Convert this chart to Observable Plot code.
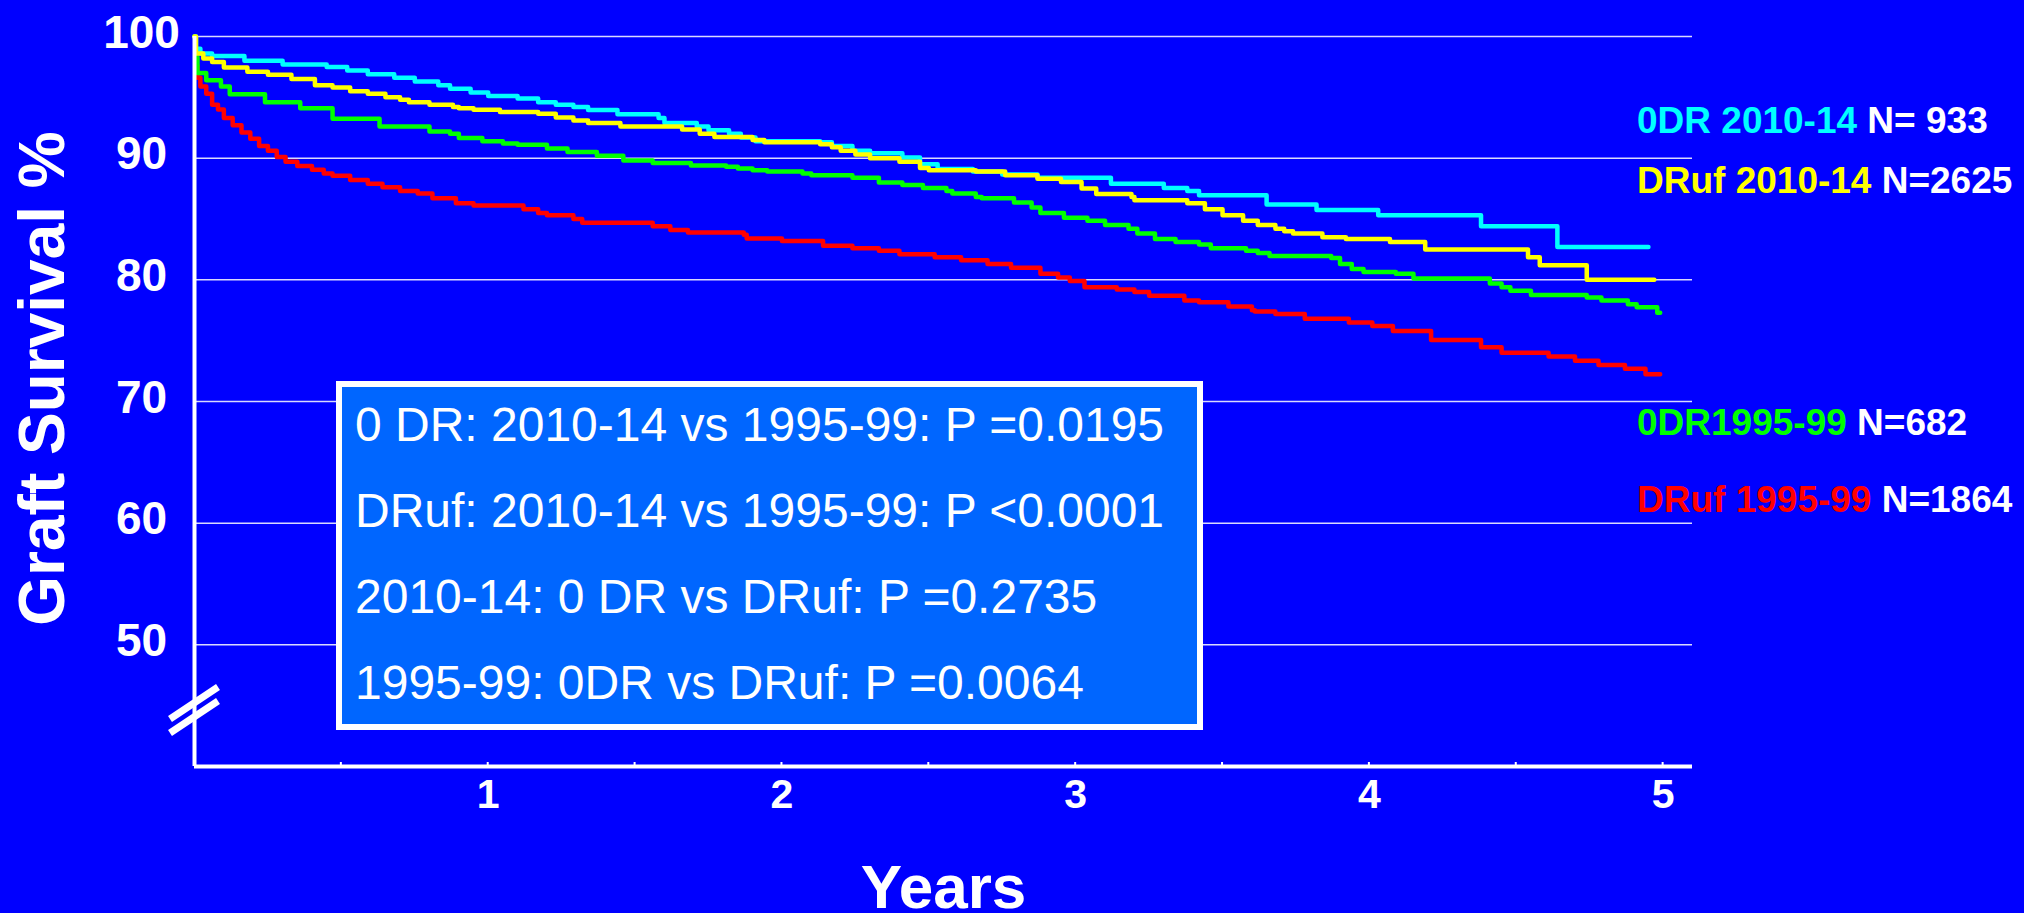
<!DOCTYPE html>
<html>
<head>
<meta charset="utf-8">
<script src="https://cdn.jsdelivr.net/npm/d3@7"></script>
<script src="https://cdn.jsdelivr.net/npm/@observablehq/plot@0.6"></script>
<style>
  html, body { margin: 0; padding: 0; background: #0000ff; overflow: hidden; }
  #chart svg { display: block; }
</style>
</head>
<body>
<div id="chart"></div>
<script>
// ---------------- DATA ----------------
const xTicks = [1, 2, 3, 4, 5];
const xMinorTicks = [0.5, 1, 1.5, 2, 2.5, 3, 3.5, 4, 4.5, 5];
const yTicks = [50, 60, 70, 80, 90, 100];
const xDomain = [0, 5.1];
const yDomain = [40, 100];
const yBreak = 44.6;
const xLabel = "Years";
const yLabel = "Graft Survival %";

// Kaplan-Meier steps: [years, graft survival %]
const odr2010 = [[0,100],[0.005,99.0],[0.02,98.6],[0.06,98.4],[0.17,98.0],[0.3,97.7],[0.45,97.5],[0.52,97.2],[0.59,96.9],[0.68,96.6],[0.75,96.3],[0.83,96.0],[0.87,95.7],[0.94,95.4],[1.0,95.1],[1.1,94.9],[1.17,94.6],[1.23,94.4],[1.29,94.2],[1.34,93.95],[1.44,93.6],[1.58,93.3],[1.6,92.9],[1.71,92.6],[1.75,92.3],[1.82,92.0],[1.86,91.7],[1.91,91.4],[2.13,91.3],[2.17,91.0],[2.24,90.6],[2.3,90.4],[2.41,90.05],[2.47,89.5],[2.53,89.1],[2.65,88.9],[2.75,88.65],[2.87,88.4],[3.12,87.9],[3.3,87.55],[3.38,87.3],[3.42,86.95],[3.65,86.2],[3.82,85.75],[4.03,85.3],[4.38,84.4],[4.64,82.7],[4.95,82.7]];

const druf2010 = [[0,100],[0.005,98.6],[0.03,98.2],[0.06,97.9],[0.1,97.45],[0.18,97.1],[0.25,96.85],[0.33,96.5],[0.41,96.0],[0.47,95.8],[0.53,95.5],[0.59,95.3],[0.65,95.0],[0.7,94.8],[0.73,94.6],[0.8,94.4],[0.88,94.2],[0.9,94.1],[0.95,93.98],[1.04,93.8],[1.17,93.65],[1.23,93.35],[1.29,93.1],[1.34,92.9],[1.45,92.6],[1.66,92.35],[1.72,92.0],[1.77,91.75],[1.9,91.5],[1.94,91.3],[2.13,91.15],[2.17,90.9],[2.2,90.6],[2.25,90.3],[2.3,90.0],[2.4,89.7],[2.47,89.2],[2.5,89.0],[2.66,88.9],[2.76,88.6],[2.87,88.3],[2.95,88.05],[3.02,87.5],[3.07,87.05],[3.19,86.8],[3.2,86.55],[3.38,86.3],[3.44,85.8],[3.5,85.3],[3.57,84.85],[3.62,84.5],[3.68,84.2],[3.71,84.0],[3.74,83.8],[3.84,83.5],[3.92,83.35],[4.07,83.1],[4.19,82.5],[4.54,81.85],[4.58,81.2],[4.74,80.0],[4.97,80.0]];

const odr1995 = [[0,100],[0.003,98.3],[0.01,97.0],[0.04,96.4],[0.09,95.9],[0.12,95.25],[0.24,94.6],[0.36,94.1],[0.47,93.25],[0.63,92.6],[0.8,92.2],[0.87,92.0],[0.9,91.65],[0.98,91.4],[1.05,91.2],[1.1,91.1],[1.2,90.8],[1.27,90.5],[1.37,90.2],[1.46,89.8],[1.56,89.6],[1.69,89.4],[1.81,89.3],[1.85,89.15],[1.9,89.0],[1.95,88.9],[2.07,88.75],[2.1,88.6],[2.24,88.4],[2.33,88.0],[2.41,87.8],[2.48,87.55],[2.56,87.3],[2.58,87.1],[2.66,86.8],[2.68,86.7],[2.79,86.35],[2.85,85.95],[2.88,85.5],[2.96,85.1],[3.04,84.85],[3.1,84.5],[3.18,84.2],[3.21,83.8],[3.27,83.35],[3.34,83.1],[3.42,82.9],[3.46,82.6],[3.58,82.4],[3.62,82.2],[3.66,81.95],[3.87,81.8],[3.9,81.3],[3.94,80.9],[3.98,80.65],[4.09,80.5],[4.15,80.1],[4.41,79.7],[4.45,79.4],[4.48,79.1],[4.55,78.75],[4.74,78.55],[4.79,78.3],[4.88,78.0],[4.91,77.75],[4.98,77.3],[4.99,77.3]];

const druf1995 = [[0,100],[0.003,97.6],[0.01,96.6],[0.02,95.9],[0.04,95.3],[0.06,94.4],[0.08,94.0],[0.1,93.3],[0.13,92.7],[0.16,92.1],[0.19,91.6],[0.22,91.0],[0.25,90.6],[0.28,90.1],[0.31,89.7],[0.35,89.35],[0.4,89.05],[0.44,88.75],[0.47,88.55],[0.53,88.2],[0.59,87.9],[0.64,87.6],[0.7,87.3],[0.76,87.1],[0.81,86.7],[0.89,86.3],[0.95,86.1],[1.12,85.8],[1.17,85.5],[1.2,85.3],[1.29,85.0],[1.32,84.7],[1.56,84.4],[1.62,84.1],[1.68,83.9],[1.87,83.7],[1.88,83.4],[2.0,83.2],[2.14,82.8],[2.24,82.6],[2.33,82.4],[2.4,82.1],[2.52,81.85],[2.61,81.6],[2.7,81.3],[2.78,81.0],[2.88,80.5],[2.94,80.2],[2.98,79.9],[3.03,79.4],[3.14,79.2],[3.2,79.0],[3.25,78.7],[3.37,78.3],[3.42,78.15],[3.52,77.8],[3.6,77.5],[3.61,77.4],[3.68,77.2],[3.78,76.8],[3.93,76.5],[4.01,76.2],[4.08,75.8],[4.21,75.05],[4.38,74.45],[4.45,74.0],[4.61,73.7],[4.7,73.35],[4.78,73.0],[4.87,72.7],[4.94,72.25],[4.99,72.25]];

const legendNames = ["0DR 2010-14", "DRuf 2010-14", "0DR1995-99", "DRuf 1995-99"];
const legendCounts = ["N= 933", "N=2625", "N=682", "N=1864"];
const statsLines = [
  "0 DR: 2010-14 vs 1995-99: P =0.0195",
  "DRuf: 2010-14 vs 1995-99: P <0.0001",
  "2010-14: 0 DR vs DRuf: P =0.2735",
  "1995-99: 0DR vs DRuf: P =0.0064"
];

// ---------------- STYLE / LAYOUT ----------------
const FONT = "'Liberation Sans', Arial, Helvetica, sans-serif";
const BG = "#0000ff";
const seriesDraw = [
  {pts: druf1995, color: "#ff0000"},
  {pts: odr1995, color: "#00ff00"},
  {pts: odr2010, color: "#00ffff"},
  {pts: druf2010, color: "#ffff00"}
];
const legendColors = ["#00ffff", "#ffff00", "#00ff00", "#ff0000"];
const legendBaselines = [133, 193, 435, 512];

function getScales(scales, dimensions) {
  const xs = scales && typeof scales.x === "function" ? scales.x : d3.scaleLinear(xDomain, [dimensions.marginLeft, dimensions.width - dimensions.marginRight]);
  const ys = scales && typeof scales.y === "function" ? scales.y : d3.scaleLinear(yDomain, [dimensions.height - dimensions.marginBottom, dimensions.marginTop]);
  return [xs, ys];
}

// axis break "//" on the y axis
const breakMark = (index, scales, values, dimensions) => {
  const [xs, ys] = getScales(scales, dimensions);
  const cx = xs(0), cy = ys(yBreak);
  const g = d3.create("svg:g");
  const hx = 24, hy = 16;
  for (const off of [-7, 7]) {
    g.append("line")
      .attr("x1", cx - hx).attr("y1", cy + off + hy)
      .attr("x2", cx + hx).attr("y2", cy + off - hy)
      .attr("stroke", "white").attr("stroke-width", 7);
  }
  return g.node();
};

// small inward tick marks on the x axis
const minorTicks = (index, scales, values, dimensions) => {
  const [xs, ys] = getScales(scales, dimensions);
  const y0 = ys(yDomain[0]);
  const g = d3.create("svg:g");
  for (const t of xMinorTicks) {
    g.append("line")
      .attr("x1", xs(t)).attr("x2", xs(t))
      .attr("y1", y0).attr("y2", y0 - 4)
      .attr("stroke", "white").attr("stroke-width", 2);
  }
  return g.node();
};

const marks = [
  Plot.ruleY(yTicks, {y: d => d, stroke: "white", strokeWidth: 1.5, strokeOpacity: 0.85}),
  ...seriesDraw.map(s => Plot.line(s.pts, {x: d => d[0], y: d => d[1], stroke: s.color, strokeWidth: 4.5, curve: "step-after"})),
  Plot.ruleX([0], {x: d => d, y1: () => yDomain[0], y2: () => yDomain[1], stroke: "white", strokeWidth: 4}),
  Plot.ruleY([yDomain[0]], {y: d => d, stroke: "white", strokeWidth: 4}),
  minorTicks,
  breakMark,
  Plot.text(yTicks, {x: () => 0, y: d => d, text: d => String(d), dx: -53, dy: 11, lineAnchor: "bottom", textAnchor: "middle", fill: "white", fontSize: 46, fontWeight: "bold"}),
  Plot.text(xTicks, {x: d => d, y: () => yDomain[0], text: d => String(d), dy: 41, lineAnchor: "bottom", textAnchor: "middle", fill: "white", fontSize: 41, fontWeight: "bold"}),
  Plot.text([xLabel], {frameAnchor: "bottom", text: d => d, dy: 141, lineAnchor: "bottom", textAnchor: "middle", fill: "white", fontSize: 62, fontWeight: "bold"}),
  Plot.text([yLabel], {frameAnchor: "left", text: d => d, rotate: -90, dx: -131, dy: -23, lineAnchor: "bottom", textAnchor: "middle", fill: "white", fontSize: 64, fontWeight: "bold"})
];

const svg = Plot.plot({
  width: 2024,
  height: 913,
  marginLeft: 194,
  marginRight: 332,
  marginTop: 36,
  marginBottom: 147,
  x: {domain: xDomain, axis: null},
  y: {domain: yDomain, axis: null},
  style: {background: BG, fontFamily: FONT, color: "white", overflow: "visible"},
  marks
});

// ---- annotation: statistics box ----
const sel = d3.select(svg);
const box = sel.append("g").attr("text-anchor", "start");
box.append("rect")
  .attr("x", 339).attr("y", 384).attr("width", 861).attr("height", 343)
  .attr("fill", "#0066ff").attr("stroke", "white").attr("stroke-width", 6);
statsLines.forEach((t, i) => {
  box.append("text")
    .attr("x", 355).attr("y", 441 + i * 86)
    .attr("text-anchor", "start")
    .attr("fill", "white").attr("font-size", 48).attr("font-family", FONT)
    .text(t);
});

// ---- annotation: series labels at right ----
const lg = sel.append("g").attr("text-anchor", "start").attr("font-family", FONT).attr("font-weight", "bold").attr("font-size", 37).style("white-space", "pre");
legendNames.forEach((name, i) => {
  const t = lg.append("text").attr("x", 1637).attr("y", legendBaselines[i]).attr("text-anchor", "start");
  t.append("tspan").attr("fill", legendColors[i]).text(name);
  t.append("tspan").attr("fill", "white").text(" " + legendCounts[i]);
});

document.getElementById("chart").appendChild(svg);
</script>
</body>
</html>
